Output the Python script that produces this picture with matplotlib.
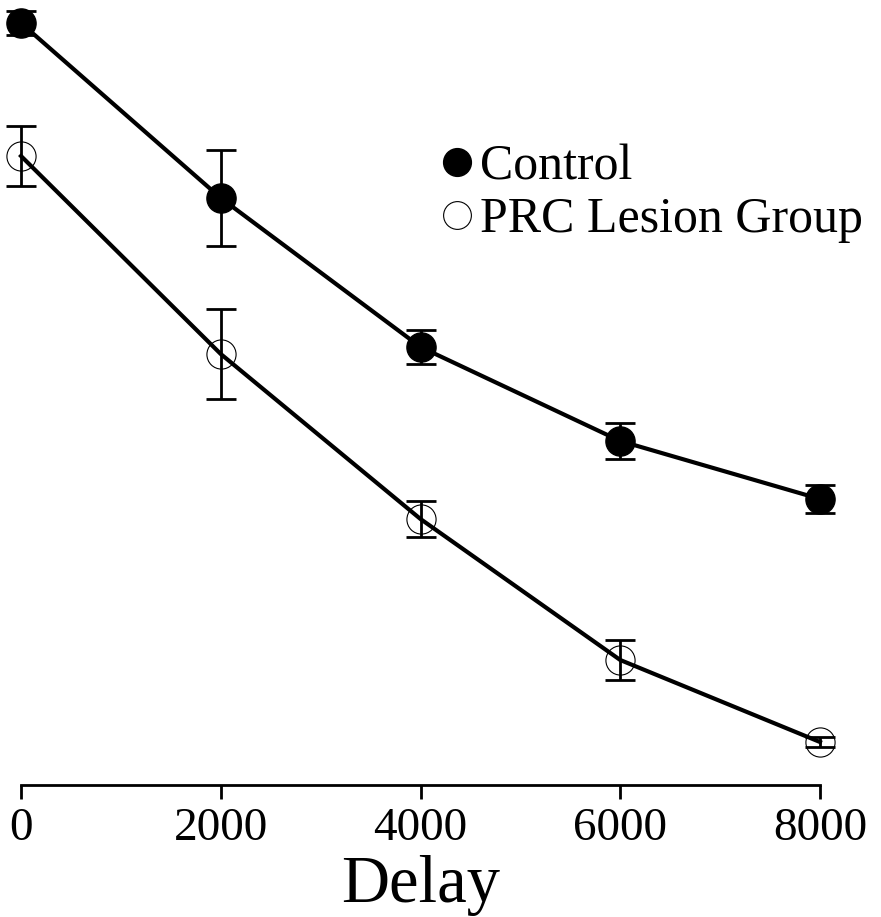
import matplotlib
matplotlib.use("Agg")
import matplotlib.pyplot as plt
from matplotlib.lines import Line2D

delay = [0, 2000, 4000, 6000, 8000]
control = [76.2, 58.7, 43.8, 34.4, 28.6]
control_err = [1.2, 4.8, 1.7, 1.8, 1.4]
prc = [62.9, 43.1, 26.6, 12.5, 4.3]
prc_err = [3.0, 4.5, 1.8, 2.0, 0.5]
xticks = [0, 2000, 4000, 6000, 8000]
xticklabels = ["0", "2000", "4000", "6000", "8000"]

fig = plt.figure(figsize=(8.81, 9.17), dpi=100)
ax = fig.add_axes([21/881, 132/917, 799/881, 780/917])

ax.plot(delay, control, color="black", lw=3, zorder=2, clip_on=False)
ax.plot(delay, prc, color="black", lw=3, zorder=2, clip_on=False)
ax.errorbar(delay, control, yerr=control_err, fmt="none", ecolor="black",
            elinewidth=2, capsize=11, capthick=2, zorder=3, clip_on=False)
ax.errorbar(delay, prc, yerr=prc_err, fmt="none", ecolor="black",
            elinewidth=2, capsize=11, capthick=2, zorder=3, clip_on=False)
ax.plot(delay, control, "o", ms=21, mfc="black", mec="black", mew=1,
        ls="none", zorder=4, clip_on=False)
ax.plot(delay, prc, "o", ms=21, mfc="none", mec="black", mew=0.8,
        ls="none", zorder=4, clip_on=False)

ax.set_xlim(0, 8000)
ax.set_ylim(0, 78)
for s in ["top", "right", "left"]:
    ax.spines[s].set_visible(False)
ax.spines["bottom"].set_linewidth(2)
ax.set_yticks([])
ax.set_xticks(xticks)
ax.set_xticklabels(xticklabels, fontfamily="Liberation Serif", fontsize=34)
ax.tick_params(axis="x", length=10, width=2, pad=6)
ax.set_xlabel("Delay", fontfamily="Liberation Serif", fontsize=48, labelpad=4)

handles = [
    Line2D([], [], marker="o", ls="none", ms=20, mfc="black", mec="black"),
    Line2D([], [], marker="o", ls="none", ms=20, mfc="none", mec="black", mew=0.8),
]
leg = ax.legend(handles, ["Control", "PRC Lesion Group"], loc="upper left",
                bbox_to_anchor=(442/881, (917-144)/917),
                bbox_transform=fig.transFigure, frameon=False,
                prop={"family": "Liberation Serif", "size": 36},
                handlelength=0.6, handletextpad=0.15, labelspacing=0.12,
                borderaxespad=0, borderpad=0)

fig.savefig("out.png", dpi=100)
